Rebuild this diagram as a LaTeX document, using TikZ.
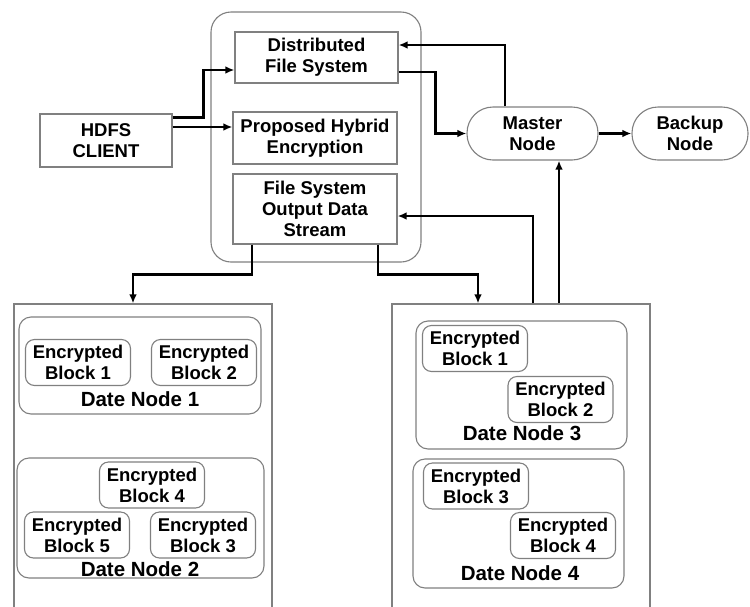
\documentclass[tikz,border=0pt]{standalone}
\usepackage{fontspec}
\setmainfont{Liberation Sans}
\usetikzlibrary{arrows.meta}

\begin{document}
\begin{tikzpicture}[
  x=1pt, y=-1pt,
  box/.style={draw=black!50, line width=1.1pt, align=center, inner sep=1pt,
    font=\fontsize{18.5}{21}\selectfont\bfseries},
  blk/.style={box, rounded corners=9pt, minimum width=105pt, minimum height=46pt},
  pill/.style={box, rounded corners=26pt, minimum height=53pt},
  grp/.style={draw=black!50, line width=1.1pt, rounded corners=12pt},
  lab/.style={font=\fontsize{20.5}{23}\selectfont\bfseries, inner sep=0pt},
  arr/.style={line width=2.4pt, -{Latex[length=9pt,width=7.5pt]}}
]
\clip (0,0) rectangle (750,606);
\fill[white] (0,0) rectangle (750,606);

\node[draw=black!50, line width=1.1pt, rounded corners=20pt, minimum width=210pt, minimum height=250pt] (hdfs) at (316,137) {};
\node[box, minimum width=163pt, minimum height=51pt] (dfs) at (316.5,57.5) {Distributed\\File System};
\node[box, minimum width=164pt, minimum height=52pt] (phe) at (315,138) {Proposed Hybrid\\Encryption};
\node[box, minimum width=164pt, minimum height=70pt] (fsout) at (315,209) {File System\\Output Data\\Stream};
\node[box, minimum width=132pt, minimum height=53pt] (client) at (106,140.5) {HDFS\\CLIENT};
\node[pill, minimum width=131pt] (master) at (532.5,133.5) {Master\\Node};
\node[pill, minimum width=116pt] (backup) at (690,133.5) {Backup\\Node};

\node[draw=black!50, line width=1.1pt, minimum width=258pt, minimum height=336pt] (lpanel) at (143,472) {};
\node[draw=black!50, line width=1.1pt, minimum width=258pt, minimum height=336pt] (rpanel) at (521,472) {};

\node[grp, minimum width=242pt, minimum height=97pt] (dn1) at (140,365.5) {};
\node[blk] (b11) at (78,362.5) {Encrypted\\Block 1};
\node[blk] (b12) at (204,362.5) {Encrypted\\Block 2};
\node[lab] (dn1lab) at (140,399) {Date Node 1};

\node[grp, minimum width=247pt, minimum height=120pt] (dn2) at (140.5,518) {};
\node[blk] (b24) at (152,485) {Encrypted\\Block 4};
\node[blk] (b25) at (77,535) {Encrypted\\Block 5};
\node[blk] (b23) at (203,535) {Encrypted\\Block 3};
\node[lab] (dn2lab) at (140,569) {Date Node 2};

\node[grp, minimum width=211pt, minimum height=128pt] (dn3) at (521.5,385) {};
\node[blk] (b31) at (475,348.5) {Encrypted\\Block 1};
\node[blk] (b32) at (560.5,399.5) {Encrypted\\Block 2};
\node[lab] (dn3lab) at (522,433) {Date Node 3};

\node[grp, minimum width=211pt, minimum height=129pt] (dn4) at (518.5,523.5) {};
\node[blk] (b43) at (476,486) {Encrypted\\Block 3};
\node[blk] (b44) at (563,535.5) {Encrypted\\Block 4};
\node[lab] (dn4lab) at (520,573) {Date Node 4};

\coordinate (c1) at ([yshift=-4pt]client.north east);
\coordinate (c2) at ([yshift=13.5pt]client.east);
\coordinate (up) at ([xshift=26.5pt]master.south);
\draw[arr] (c1) -- ++(31,0) |- ([yshift=-12.5pt]dfs.west);
\draw[arr] (c2) -- (c2 -| phe.west);
\draw[arr] ([yshift=-14.5pt]dfs.east) -- ++(37,0) |- (master.west);
\draw[arr] ([xshift=-27.5pt]master.north) |- ([yshift=12.5pt]dfs.east);
\draw[arr] (master) -- (backup);
\draw[arr] (up |- rpanel.north) -- (up);
\draw[arr] ([xshift=12pt]rpanel.north) |- ([yshift=-7pt]fsout.east);
\draw[arr] ([xshift=-63pt]fsout.south) -- ++(0,30) -| ([xshift=-10pt]lpanel.north);
\draw[arr] ([xshift=63pt]fsout.south) -- ++(0,30) -| ([xshift=-43pt]rpanel.north);
\end{tikzpicture}
\end{document}
